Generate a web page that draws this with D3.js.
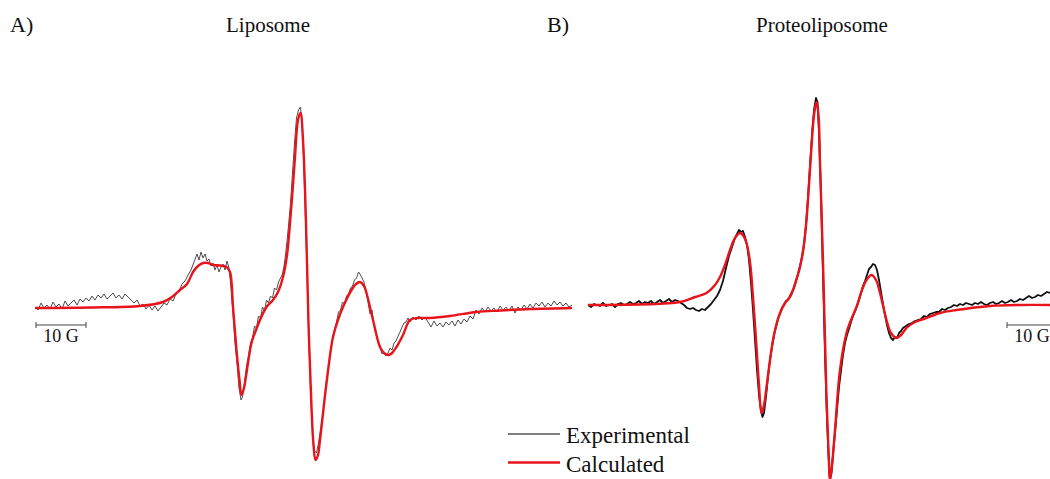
<!DOCTYPE html>
<html>
<head>
<meta charset="utf-8">
<script src="https://cdn.jsdelivr.net/npm/d3@7"></script>
<style>
  body { margin: 0; background: #fff; }
  svg { display: block; }
  text { font-family: "Liberation Serif", "Times New Roman", serif; fill: #111; }
</style>
</head>
<body>
<script>
// field in G (from left end of sweep), amplitude in arbitrary units (baseline 0)

// A) Liposome, calculated spectrum
let liposomeCalc = [
  [0, 0], [11, 0.5], [21, 2], [25.6, 6], [27.4, 11], [29, 18], [30.4, 24], [31.6, 36], [32.6, 42],
  [33.6, 45], [34.6, 45], [35.6, 43], [37, 42.5], [38.3, 41], [39, 36], [39.6, 1], [40.3, -42],
  [40.9, -72], [41.3, -87], [41.8, -80], [42.3, -65], [43.3, -35], [44.2, -22], [45, -12], [46.3, 1],
  [47.6, 8], [48.6, 16], [49.6, 31], [50.4, 53], [51, 85], [51.6, 123], [52, 151], [52.6, 188],
  [53.1, 195], [53.6, 168], [54.2, 85], [54.7, -15], [55.3, -99], [55.7, -137], [56.1, -152],
  [56.6, -147], [57, -132], [58.3, -75], [59.6, -29], [60.6, -12], [61.6, 1], [63.3, 18], [64.2, 24],
  [65, 26], [65.8, 22], [66.3, 15], [67.6, -12], [69, -39], [69.8, -45], [70.7, -47], [71.4, -45],
  [72.3, -39], [73.6, -27], [75, -12], [76.6, -10], [79, -10], [83, -8], [88.3, -4], [93, -2.5],
  [99, -1], [107.4, 0]
];

// A) Liposome, experimental spectrum
let liposomeExp = [
  [0, 1], [0.6, -2], [1.2, 5], [1.8, 0], [2.4, 3], [3, -1], [3.6, 6], [4.2, 1], [4.8, 4], [5.4, -1],
  [6, 7], [6.6, 2], [7.2, 5], [7.8, 8], [8.4, 3], [9, 9], [9.6, 6], [10.2, 10], [10.8, 7], [11.4, 12],
  [12, 8], [12.6, 13], [13.2, 10], [13.8, 14], [14.4, 9], [15, 12], [15.6, 15], [16.2, 10], [16.8, 13],
  [17.4, 9], [18, 14], [18.6, 11], [19.2, 8], [19.8, 5], [20.4, 8], [21, 2], [21.6, 4], [22.2, -1],
  [22.8, 3], [23.4, -2], [24, 2], [24.6, -3], [25.2, 1], [25.8, 5], [26.4, 3], [27, 9], [27.6, 7],
  [28.2, 14], [28.8, 17], [29.4, 24], [30, 27], [30.6, 33], [31.2, 38], [31.8, 46], [32.4, 54],
  [32.8, 48], [33.2, 56], [33.6, 50], [34, 54], [34.4, 47], [34.8, 49], [35.2, 42], [35.6, 45],
  [36, 38], [36.4, 43], [36.8, 36], [37.2, 41], [37.6, 44], [38, 38], [38.4, 47], [38.8, 40],
  [39.2, 20], [39.6, -5], [40, -35], [40.4, -55], [40.8, -80], [41.2, -92], [41.5, -89], [41.9, -75],
  [42.3, -58], [42.7, -48], [43.1, -35], [43.5, -30], [43.9, -18], [44.3, -20], [44.7, -8], [45.1, -10],
  [45.5, 1], [45.9, -3], [46.3, 8], [46.7, 5], [47.1, 12], [47.5, 10], [47.9, 20], [48.3, 18],
  [48.7, 26], [49.1, 30], [49.5, 34], [49.9, 45], [50.3, 62], [50.7, 82], [51.1, 105], [51.5, 135],
  [51.9, 165], [52.3, 190], [52.7, 198], [53.1, 201], [53.5, 178], [53.9, 120], [54.3, 55],
  [54.7, -20], [55.1, -85], [55.5, -125], [55.9, -143], [56.3, -145], [56.7, -135], [57.1, -122],
  [57.5, -108], [57.9, -92], [58.3, -72], [58.7, -60], [59.1, -44], [59.5, -30], [59.9, -22],
  [60.3, -14], [60.7, -4], [61.1, -2], [61.5, 6], [61.9, 4], [62.3, 12], [62.7, 14], [63.1, 20],
  [63.5, 22], [63.9, 28], [64.3, 30], [64.7, 36], [65, 34], [65.4, 30], [65.8, 26], [66.2, 16],
  [66.6, 6], [67, -6], [67.4, -2], [67.8, -18], [68.2, -26], [68.6, -34], [69, -38], [69.4, -46],
  [69.8, -44], [70.2, -48], [70.6, -45], [71, -40], [71.4, -42], [71.8, -35], [72.2, -33], [72.6, -28],
  [73, -24], [73.4, -19], [73.8, -15], [74.2, -14], [74.6, -10], [75, -14], [75.6, -9], [76.2, -12],
  [76.8, -8], [77.4, -12], [78, -9], [78.6, -14], [79.2, -19], [79.8, -13], [80.4, -18], [81, -15],
  [81.6, -19], [82.2, -14], [82.8, -17], [83.4, -13], [84, -18], [84.6, -12], [85.2, -16], [85.8, -11],
  [86.4, -14], [87, -8], [87.6, -11], [88.2, -2], [88.8, -6], [89.4, 0], [90, -4], [90.6, 1], [91.2, -3],
  [91.8, 0], [92.4, -4], [93, 2], [93.6, -2], [94.2, 1], [94.8, -3], [95.4, 2], [96, -5], [96.6, 1],
  [97.2, -2], [97.8, 3], [98.4, -1], [99, 4], [99.6, 0], [100.2, 5], [100.8, 2], [101.4, 6], [102, 1],
  [102.6, 5], [103.2, 2], [103.8, 7], [104.4, 3], [105, 6], [105.6, 2], [106.2, 5], [106.8, 1], [107.4, 3]
];

// B) Proteoliposome, calculated spectrum
let proteoCalc = [
  [0, 0], [18.4, 3], [21.4, 8], [23.7, 12], [25.4, 20], [26.4, 28], [27.4, 40], [28.4, 55], [29.4, 67],
  [30.4, 72], [31.1, 69], [31.7, 62], [32.4, 43], [33, 8], [33.7, -42], [34.2, -80], [34.7, -108],
  [35.2, -100], [35.7, -82], [36.4, -55], [37, -35], [37.6, -21], [38.4, -8], [39.4, 2], [40.4, 8],
  [41.4, 21], [42.4, 38], [43.1, 57], [43.7, 85], [44.2, 120], [44.7, 158], [45.2, 190], [45.7, 203],
  [46.1, 190], [46.4, 142], [47.1, 25], [47.7, -92], [48.1, -145], [48.4, -175], [48.8, -160],
  [49.4, -125], [50.4, -65], [51.7, -28], [52.6, -15], [53.7, -2], [54.8, 15], [55.7, 25], [56.7, 30],
  [57.6, 25], [58.4, 12], [59.7, -15], [60.6, -28], [61.7, -33], [62.6, -30], [63.7, -23], [65.4, -17],
  [67.1, -14], [70.4, -8], [73.7, -5], [80.4, -1], [86.4, 0], [92.4, 0]
];

// B) Proteoliposome, experimental spectrum
let proteoExp = [
  [0, 0], [0.6, -2], [1.2, 1], [1.8, 0], [2.4, -1], [3, 2], [3.6, -1], [4.2, 0], [4.8, 1], [5.4, -2],
  [6, 1], [6.6, 2], [7.2, 0], [7.8, 1], [8.4, 3], [9, 1], [9.6, 2], [10.2, 4], [10.8, 1], [11.4, 3],
  [12, 2], [12.6, 4], [13.2, 1], [13.8, 3], [14.4, 5], [15, 2], [15.6, 4], [16.2, 6], [16.8, 3],
  [17.4, 5], [18, 4], [18.6, 2], [19.2, 0], [19.8, -3], [20.4, -4], [21, -3], [21.6, -5], [22.2, -6],
  [22.8, -4], [23.4, -5], [24, -2], [24.6, 1], [25.2, 5], [25.8, 9], [26.4, 15], [27, 24], [27.6, 37],
  [28.2, 49], [28.8, 58], [29.4, 67], [29.8, 71], [30.2, 75], [30.6, 73], [31, 74], [31.4, 68],
  [31.8, 60], [32.2, 45], [32.6, 22], [33, -5], [33.4, -35], [33.8, -65], [34.2, -90], [34.6, -106],
  [34.9, -112], [35.2, -108], [35.6, -92], [36, -72], [36.4, -55], [36.8, -42], [37.2, -30], [37.6, -22],
  [38, -14], [38.4, -9], [38.8, -3], [39.2, 0], [39.6, 4], [40, 5], [40.4, 9], [40.8, 13], [41.2, 17],
  [41.6, 24], [42, 31], [42.4, 39], [42.8, 48], [43.2, 60], [43.6, 80], [44, 108], [44.4, 140],
  [44.8, 170], [45.2, 195], [45.6, 207], [45.9, 203], [46.2, 172], [46.6, 110], [47, 30], [47.4, -50],
  [47.8, -115], [48.1, -150], [48.4, -175], [48.7, -168], [49, -150], [49.4, -128], [49.8, -105],
  [50.2, -82], [50.6, -66], [51, -50], [51.4, -38], [51.8, -30], [52.2, -24], [52.6, -17], [53, -11],
  [53.4, -6], [53.8, -1], [54.2, 5], [54.6, 12], [55, 19], [55.4, 24], [55.8, 30], [56.2, 36],
  [56.6, 38], [57, 41], [57.4, 40], [57.8, 35], [58.2, 25], [58.6, 13], [59, 1], [59.4, -10],
  [59.8, -20], [60.2, -28], [60.6, -33], [61, -35], [61.4, -32], [61.8, -33], [62.2, -28], [62.6, -26],
  [63, -23], [63.6, -21], [64.2, -19], [64.8, -18], [65.4, -16], [66, -15], [66.6, -14], [67.2, -11],
  [67.8, -12], [68.4, -9], [69, -8], [69.6, -7], [70.2, -7], [70.8, -4], [71.4, -5], [72, -3], [72.6, -2],
  [73.2, 0], [73.8, -1], [74.4, 1], [75, 0], [75.6, 2], [76.2, 1], [76.8, 0], [77.4, 2], [78, 1],
  [78.6, 3], [79.2, 1], [79.8, 0], [80.4, 2], [81, 3], [81.6, 1], [82.2, 2], [82.8, 4], [83.4, 2],
  [84, 3], [84.6, 5], [85.2, 3], [85.8, 4], [86.4, 6], [87, 5], [87.6, 7], [88.2, 9], [88.8, 7],
  [89.4, 8], [90, 10], [90.6, 9], [91.2, 11], [91.8, 13], [92.4, 12]
];

let panelLabels = ["A)", "B)"];
let panelTitles = ["Liposome", "Proteoliposome"];
let legendLabels = ["Experimental", "Calculated"];
let scaleBarText = "10 G";
let scaleBarWidth = 10; // G

let width = 1050, height = 479;
let red = "#e8141c";

let svg = d3.select("body").append("svg")
    .attr("width", width)
    .attr("height", height);

// one set of scales for each panel
let panels = [
  {
    label: panelLabels[0], title: panelTitles[0],
    calc: liposomeCalc, exp: liposomeExp,
    x: d3.scaleLinear().domain([0, 107.4]).range([35, 572]),
    y: d3.scaleLinear().domain([-171, 308]).range([height, 0]),
    expColor: "#4d4d4d", expWidth: 1,
    labelX: 10, titleX: 268,
    barStart: 0.2, barY: -17
  },
  {
    label: panelLabels[1], title: panelTitles[1],
    calc: proteoCalc, exp: proteoExp,
    x: d3.scaleLinear().domain([0, 92.4]).range([588, 1050]),
    y: d3.scaleLinear().domain([-174, 305]).range([height, 0]),
    expColor: "#111", expWidth: 1.8,
    labelX: 547, titleX: 822,
    barStart: 83.8, barY: -20
  }
];

panels.forEach(function (p) {
  let g = svg.append("g");

  let line = d3.line()
      .x(d => p.x(d[0]))
      .y(d => p.y(d[1]));

  // experimental trace
  g.append("path")
      .datum(p.exp)
      .attr("fill", "none")
      .attr("stroke", p.expColor)
      .attr("stroke-width", p.expWidth)
      .attr("stroke-linejoin", "round")
      .attr("d", line);

  // calculated fit
  g.append("path")
      .datum(p.calc)
      .attr("fill", "none")
      .attr("stroke", red)
      .attr("stroke-width", 2.4)
      .attr("d", line.curve(d3.curveCatmullRom.alpha(0.5)));

  // panel letter and title
  g.append("text")
      .attr("x", p.labelX)
      .attr("y", 32)
      .style("font-size", "22px")
      .text(p.label);

  g.append("text")
      .attr("x", p.titleX)
      .attr("y", 32)
      .attr("text-anchor", "middle")
      .style("font-size", "21px")
      .text(p.title);

  // 10 G scale bar
  let bx0 = p.x(p.barStart), bx1 = p.x(p.barStart + scaleBarWidth), by = p.y(p.barY);
  let bar = g.append("g").attr("stroke", "#444").attr("stroke-width", 1);
  bar.append("line").attr("x1", bx0).attr("x2", bx1).attr("y1", by).attr("y2", by);
  bar.append("line").attr("x1", bx0).attr("x2", bx0).attr("y1", by - 3).attr("y2", by + 3);
  bar.append("line").attr("x1", bx1).attr("x2", bx1).attr("y1", by - 3).attr("y2", by + 3);
  g.append("text")
      .attr("x", (bx0 + bx1) / 2)
      .attr("y", by + 17)
      .attr("text-anchor", "middle")
      .style("font-size", "18px")
      .text(scaleBarText);
});

// legend
let legend = svg.append("g").attr("transform", "translate(508,434)");
let legendColors = ["#555", red];
let legendWidths = [1.4, 2.4];
legendLabels.forEach(function (name, i) {
  let row = legend.append("g").attr("transform", "translate(0," + (i * 28.5) + ")");
  row.append("line")
      .attr("x1", 0).attr("x2", 52)
      .attr("stroke", legendColors[i])
      .attr("stroke-width", legendWidths[i]);
  row.append("text")
      .attr("x", 58)
      .attr("y", 9)
      .style("font-size", "23px")
      .text(name);
});
</script>
</body>
</html>
